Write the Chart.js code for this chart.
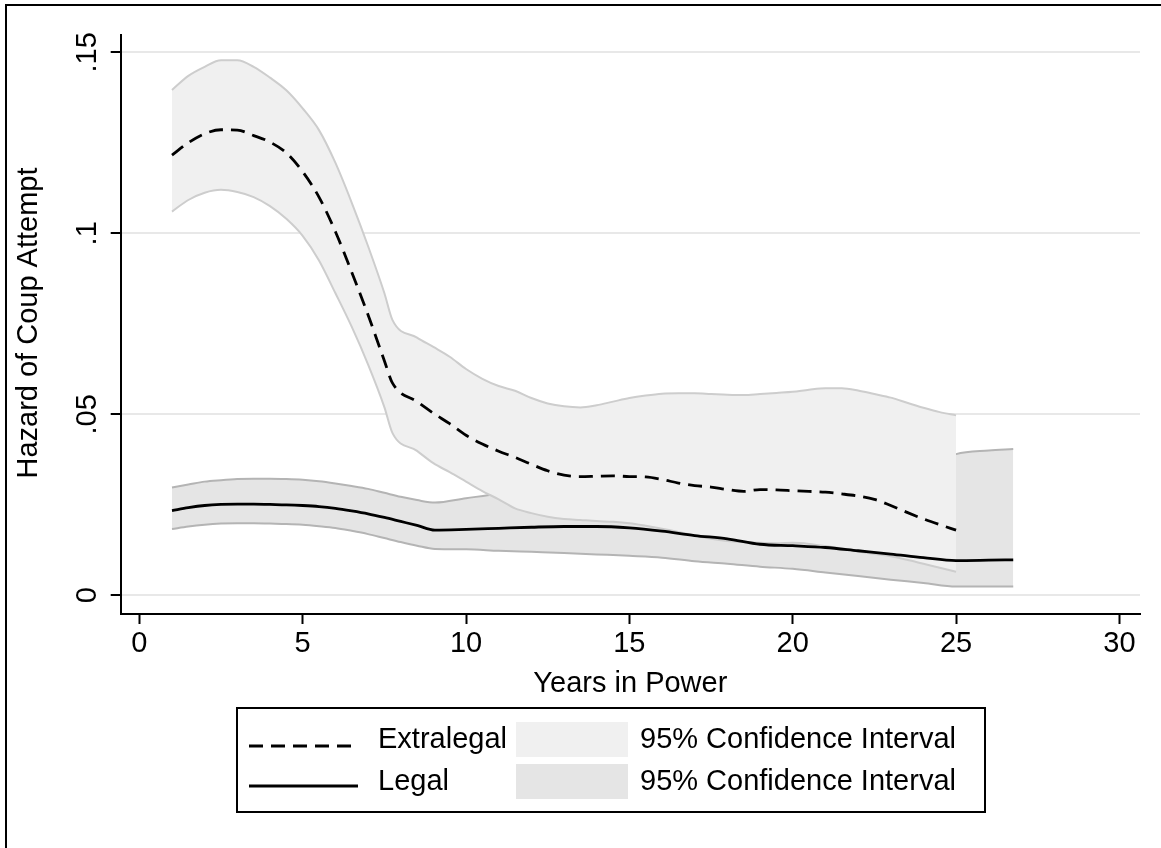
<!DOCTYPE html>
<html>
<head>
<meta charset="utf-8">
<title>Hazard of Coup Attempt</title>
<script src="https://cdn.jsdelivr.net/npm/chart.js@4.4.1/dist/chart.umd.min.js"></script>
<style>
    html, body { margin: 0; padding: 0; background: #fff; }
    #wrap { position: relative; width: 1161px; height: 848px; }
</style>
</head>
<body>
<div id="wrap"><canvas id="hazard_chart"></canvas></div>
<script>
// Extralegal entry: smoothed hazard with 95% confidence band
var extra_years = [1, 1.5, 2, 2.5, 3, 3.5, 4, 4.5, 5, 5.5, 6, 6.5, 7, 7.5, 7.75, 8.5, 9, 9.5, 10, 10.5,
    11, 11.5, 12, 12.5, 13, 13.5, 14, 14.5, 15, 15.5, 16, 16.5, 17, 17.5, 18, 18.5, 19, 19.5, 20,
    20.5, 21, 21.5, 22, 22.5, 23, 23.5, 24, 24.5, 25];
var extra_hazard = [0.1216, 0.1250, 0.1275, 0.1286, 0.1285, 0.1270, 0.1252, 0.1222, 0.1170, 0.1100,
    0.1005, 0.0893, 0.0775, 0.0648, 0.0586, 0.0535, 0.0503, 0.0474, 0.0442, 0.0418,
    0.0398, 0.0381, 0.0362, 0.0344, 0.0332, 0.0328, 0.0329, 0.0330, 0.0328, 0.0327, 0.0320,
    0.0310, 0.0303, 0.0299, 0.0292, 0.0287, 0.0292, 0.0291, 0.0289,
    0.0287, 0.0285, 0.0280, 0.0274, 0.0265, 0.0248, 0.0229, 0.0211, 0.0195, 0.0180];
var extra_upper = [0.1396, 0.1435, 0.1460, 0.1478, 0.1478, 0.1460, 0.1430, 0.1395, 0.1345, 0.1285,
    0.1195, 0.1085, 0.0965, 0.0835, 0.0760, 0.0712, 0.0686, 0.0659, 0.0625, 0.0598,
    0.0578, 0.0565, 0.0545, 0.0530, 0.0522, 0.0519, 0.0525, 0.0535, 0.0545, 0.0552, 0.0557,
    0.0558, 0.0558, 0.0556, 0.0554, 0.0553, 0.0556, 0.0559, 0.0562,
    0.0568, 0.0572, 0.0572, 0.0566, 0.0556, 0.0546, 0.0532, 0.0518, 0.0506, 0.0497];
var extra_lower = [0.1060, 0.1092, 0.1112, 0.1120, 0.1114, 0.1100, 0.1075, 0.1040, 0.0993, 0.0925,
    0.0835, 0.0742, 0.0638, 0.0520, 0.0448, 0.0399, 0.0365, 0.0340, 0.0314, 0.0288,
    0.0265, 0.0240, 0.0227, 0.0217, 0.0211, 0.0208, 0.0205, 0.0203, 0.0199, 0.0192, 0.0184,
    0.0175, 0.0165, 0.0156, 0.0150, 0.0147, 0.0145, 0.0144, 0.0145,
    0.0142, 0.0136, 0.0129, 0.0121, 0.0114, 0.0108, 0.0098, 0.0087, 0.0076, 0.0065];

// Legal entry: smoothed hazard with 95% confidence band
var legal_years = [1, 1.5, 2, 2.5, 3, 3.5, 4, 4.5, 5, 5.5, 6, 6.5, 7, 7.5, 8, 8.5, 9.05, 10,
    11, 12, 13, 14, 15, 16, 17, 18, 19, 20, 21, 22, 23, 24, 25, 26, 26.75];
var legal_hazard = [0.0234, 0.0242, 0.0248, 0.0251, 0.0252, 0.0252, 0.0251, 0.0250, 0.0248, 0.0245,
    0.0240, 0.0233, 0.0225, 0.0215, 0.0204, 0.0193, 0.0180, 0.0182,
    0.0185, 0.0188, 0.0190, 0.0190, 0.0186, 0.0177, 0.0165, 0.0156, 0.0141, 0.0137, 0.0132,
    0.0123, 0.0114, 0.0104, 0.0096, 0.0097, 0.0098];
var legal_upper = [0.0298, 0.0306, 0.0314, 0.0318, 0.0321, 0.0322, 0.0322, 0.0321, 0.0319, 0.0315,
    0.0309, 0.0302, 0.0294, 0.0283, 0.0272, 0.0263, 0.0256, 0.0268,
    0.0280, 0.0285, 0.0285, 0.0285, 0.0285, 0.0285, 0.0285, 0.0288, 0.0292, 0.0298, 0.0305,
    0.0315, 0.0330, 0.0350, 0.0390, 0.0400, 0.0404];
var legal_lower = [0.0183, 0.0190, 0.0195, 0.0198, 0.0199, 0.0199, 0.0198, 0.0197, 0.0195, 0.0191,
    0.0186, 0.0178, 0.0169, 0.0158, 0.0147, 0.0137, 0.0128, 0.0127,
    0.0123, 0.0120, 0.0117, 0.0113, 0.0109, 0.0104, 0.0094, 0.0087, 0.0079, 0.0073, 0.0063,
    0.0053, 0.0043, 0.0034, 0.0024, 0.0024, 0.0024];

var x_ticks = [0, 5, 10, 15, 20, 25, 30];
var y_ticks = [0, 0.05, 0.1, 0.15];
var y_tick_labels = ['0', '.05', '.1', '.15'];
var ci_label = '95% Confidence Interval';

const FONT = 'Liberation Sans, Arial, Helvetica, sans-serif';
const FONT_SIZE = 29;
const CLEAR = 'rgba(0,0,0,0)';

function to_points(xs, ys) {
    return xs.map(function (x, i) { return {x: x, y: ys[i]}; });
}

// Stata style legend box, outer frame and rotated y title
const stata_decor = {
    id: 'stata_decor',
    afterDraw: function (chart) {
        var ctx = chart.ctx;
        var ds = chart.data.datasets;
        ctx.save();

        // outer frame (top and left only)
        ctx.strokeStyle = '#000';
        ctx.lineWidth = 2;
        ctx.beginPath();
        ctx.moveTo(6, 848);
        ctx.lineTo(6, 5);
        ctx.lineTo(1161, 5);
        ctx.stroke();

        ctx.font = FONT_SIZE + 'px ' + FONT;
        ctx.fillStyle = '#000';

        // y axis title
        ctx.save();
        ctx.translate(29, 323);
        ctx.rotate(-Math.PI / 2);
        ctx.textAlign = 'center';
        ctx.textBaseline = 'middle';
        ctx.fillText('Hazard of Coup Attempt', 0, 0);
        ctx.restore();

        // legend box
        ctx.lineWidth = 2;
        ctx.strokeRect(237, 708, 748, 104);

        var rows = [
            {line: ds[1], band: ds[5], y: 740, line_y: 746},
            {line: ds[0], band: ds[9], y: 782, line_y: 786}
        ];
        rows.forEach(function (row) {
            ctx.strokeStyle = '#000';
            ctx.lineWidth = row.line.borderWidth;
            ctx.setLineDash(row.line.borderDash || []);
            ctx.beginPath();
            ctx.moveTo(249, row.line_y);
            ctx.lineTo(358, row.line_y);
            ctx.stroke();
            ctx.setLineDash([]);

            ctx.fillStyle = row.band.backgroundColor;
            ctx.fillRect(516, row.y - 18, 112, 35);

            ctx.fillStyle = '#000';
            ctx.textAlign = 'left';
            ctx.textBaseline = 'middle';
            ctx.fillText(row.line.label, 378, row.y);
            ctx.fillText(ci_label, 640, row.y);
        });
        ctx.restore();
    }
};

const context = document.getElementById('hazard_chart');

new Chart(context, {
    type: 'line',
    data: {
        datasets: [
            {label: 'Legal', data: to_points(legal_years, legal_hazard),
                borderColor: '#000', borderWidth: 2.8, order: 1},
            {label: 'Extralegal', data: to_points(extra_years, extra_hazard),
                borderColor: '#000', borderWidth: 2.8, borderDash: [14, 8], order: 2},
            {label: 'extra upper', data: to_points(extra_years, extra_upper),
                borderColor: '#cdcdcd', borderWidth: 2, order: 3},
            {label: 'extra lower', data: to_points(extra_years, extra_lower),
                borderColor: '#cdcdcd', borderWidth: 2, order: 3},
            {label: 'extra base', data: to_points(extra_years, extra_lower),
                borderColor: CLEAR, borderWidth: 0, order: 5},
            {label: ci_label, data: to_points(extra_years, extra_upper),
                borderColor: CLEAR, borderWidth: 0, fill: '-1', backgroundColor: '#f0f0f0', order: 4},
            {label: 'legal upper', data: to_points(legal_years, legal_upper),
                borderColor: '#b4b4b4', borderWidth: 2, order: 6},
            {label: 'legal lower', data: to_points(legal_years, legal_lower),
                borderColor: '#b4b4b4', borderWidth: 2, order: 6},
            {label: 'legal base', data: to_points(legal_years, legal_lower),
                borderColor: CLEAR, borderWidth: 0, order: 8},
            {label: ci_label, data: to_points(legal_years, legal_upper),
                borderColor: CLEAR, borderWidth: 0, fill: '-1', backgroundColor: '#e5e5e5', order: 7}
        ]
    },
    options: {
        responsive: true,
        maintainAspectRatio: false,
        animation: false,
        layout: {padding: {left: 0, top: 35, right: 21, bottom: 0}},
        elements: {
            point: {radius: 0, hoverRadius: 0},
            line: {cubicInterpolationMode: 'monotone', fill: false}
        },
        plugins: {
            legend: {display: false},
            tooltip: {enabled: false}
        },
        scales: {
            x: {
                type: 'linear',
                min: -0.57,
                max: 30.63,
                afterBuildTicks: function (scale) {
                    scale.ticks = x_ticks.map(function (v) { return {value: v}; });
                },
                afterFit: function (scale) { scale.height = 234; },
                grid: {drawOnChartArea: false, tickColor: '#000', tickLength: 10, tickWidth: 2},
                border: {color: '#000', width: 2},
                ticks: {color: '#000', font: {family: FONT, size: FONT_SIZE}, padding: 3,
                    maxRotation: 0, autoSkip: false},
                title: {display: true, text: 'Years in Power', color: '#000',
                    font: {family: FONT, size: FONT_SIZE}, padding: {top: 0, bottom: 147}}
            },
            y: {
                min: -0.00517,
                max: 0.15478,
                afterBuildTicks: function (scale) {
                    scale.ticks = y_ticks.map(function (v) { return {value: v}; });
                },
                afterFit: function (scale) { scale.width = 120.7; },
                grid: {color: '#e8e8e8', lineWidth: 2, tickColor: '#000', tickLength: 10, tickWidth: 2},
                border: {color: '#000', width: 2},
                ticks: {
                    color: '#000',
                    font: {family: FONT, size: FONT_SIZE},
                    minRotation: 90,
                    maxRotation: 90,
                    crossAlign: 'center',
                    padding: 3,
                    autoSkip: false,
                    callback: function (value) {
                        return y_tick_labels[y_ticks.indexOf(value)];
                    }
                }
            }
        }
    },
    plugins: [stata_decor]
});
</script>
</body>
</html>
